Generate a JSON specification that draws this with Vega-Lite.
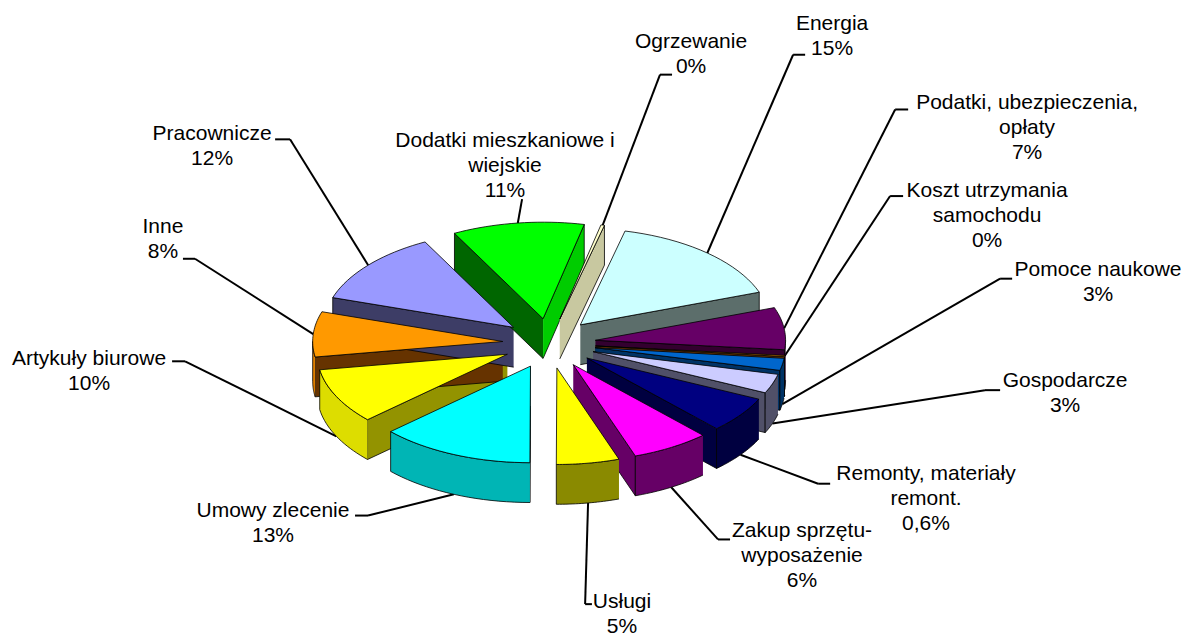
{"$schema":"https://vega.github.io/schema/vega-lite/v6.json","width":1185,"height":637,"padding":0,"autosize":{"type":"fit","contains":"padding"},"background":"white","config":{"view":{"stroke":null}},
"data":{"values":[
{"name":"Energia","label":"Energia\n15%","share":15.6},
{"name":"Podatki","label":"Podatki, ubezpieczenia,\nopłaty\n7%","share":7},
{"name":"Koszt","label":"Koszt utrzymania\nsamochodu\n0%","share":0.2},
{"name":"Pomoce","label":"Pomoce naukowe\n3%","share":2},
{"name":"Gospodarcze","label":"Gospodarcze\n3%","share":3.2},
{"name":"Remonty","label":"Remonty, materiały\nremont.\n0,6%","share":6},
{"name":"Zakup","label":"Zakup sprzętu-\nwyposażenie\n6%","share":6.6},
{"name":"Usługi","label":"Usługi\n5%","share":5.3},
{"name":"Umowy","label":"Umowy zlecenie\n13%","share":13},
{"name":"Artykuły","label":"Artykuły biurowe\n10%","share":9.2},
{"name":"Inne","label":"Inne\n8%","share":7.5},
{"name":"Pracownicze","label":"Pracownicze\n12%","share":12.2},
{"name":"Dodatki","label":"Dodatki mieszkaniowe i\nwiejskie\n11%","share":11.1},
{"name":"Ogrzewanie","label":"Ogrzewanie\n0%","share":0.3}
]},
"transform":[
{"window":[{"op":"row_number","as":"rank"},{"op":"sum","field":"share","as":"cum"}]},
{"joinaggregate":[{"op":"sum","field":"share","as":"total"}]},
{"calculate":"(13.6+360*datum.cum/datum.total)*PI/180","as":"a1"},
{"calculate":"datum.a1-2*PI*datum.share/datum.total","as":"a0"},
{"calculate":"(datum.a0+datum.a1)/2","as":"mid"},
{"calculate":"-0.03+0.24*sin(datum.mid)","as":"ox"},
{"calculate":"0.25*cos(datum.mid)","as":"oy"}
],
"layer":[
{"transform":[
{"calculate":"datum.ox+0.98*sin(datum.mid)","as":"ex"},
{"calculate":"datum.oy+0.97*cos(datum.mid)-(cos(datum.mid)<-0.15?0.4:0)","as":"ey"},
{"calculate":"[1.227,1.753,1.727,2.294,2.216,1.356,0.84,0.155,-0.964,-1.907,-1.856,-1.366,-0.17,0.541][datum.rank-1]","as":"kx"},
{"calculate":"[2.9,2.35,1.48,0.65,-0.47,-1.41,-1.97,-2.62,-1.73,-0.18,0.85,2.05,1.45,2.7][datum.rank-1]","as":"ky"}],
"mark":{"type":"rule","color":"black","strokeWidth":2},
"encoding":{"x":{"field":"ex","type":"quantitative","scale":{"domain":[-2.861,3.247],"nice":false,"zero":false},"axis":null},"y":{"field":"ey","type":"quantitative","scale":{"domain":[-2.92,3.45],"nice":false,"zero":false},"axis":null},"x2":{"field":"kx"},"y2":{"field":"ky"}}},
{"transform":[
{"calculate":"[1.227,1.753,1.727,2.294,2.216,1.356,0.84,0.155,-0.964,-1.907,-1.856,-1.366,-0.17,0.541][datum.rank-1]","as":"kx"},
{"calculate":"[1.289,1.82,1.794,2.356,2.294,1.418,0.902,0.19,-1.031,-1.974,-1.918,-1.443,-0.17,0.603][datum.rank-1]","as":"sx"},
{"calculate":"[2.9,2.35,1.48,0.65,-0.47,-1.41,-1.97,-2.62,-1.73,-0.18,0.85,2.05,1.45,2.7][datum.rank-1]","as":"ky"}],
"mark":{"type":"rule","color":"black","strokeWidth":2},
"encoding":{"x":{"field":"kx","type":"quantitative","scale":{"domain":[-2.861,3.247],"nice":false,"zero":false},"axis":null},"y":{"field":"ky","type":"quantitative","scale":{"domain":[-2.92,3.45],"nice":false,"zero":false},"axis":null},"x2":{"field":"sx"}}},
{"transform":[
{"calculate":"[0,1]","as":"w"},{"flatten":["w"]},
{"filter":"(datum.w==0&&sin(datum.a0)<0)||(datum.w==1&&sin(datum.a1)>0)"},
{"calculate":"[0,1,2,3]","as":"q"},{"flatten":["q"]},
{"calculate":"datum.w==0?datum.a0:datum.a1","as":"a"},
{"calculate":"datum.name+datum.w","as":"wk"},
{"calculate":"datum.ox+((datum.q==1||datum.q==2)?0.98*sin(datum.a):0)","as":"X"},
{"calculate":"datum.oy+((datum.q==1||datum.q==2)?0.97*cos(datum.a):0)-(datum.q>=2?0.4:0)","as":"Y"}],
"mark":{"type":"line","filled":true,"stroke":"black","strokeWidth":0.8,"interpolate":"linear"},
"encoding":{"x":{"field":"X","type":"quantitative","scale":{"domain":[-2.861,3.247],"nice":false,"zero":false},"axis":null},"y":{"field":"Y","type":"quantitative","scale":{"domain":[-2.92,3.45],"nice":false,"zero":false},"axis":null},"order":{"field":"q","type":"quantitative"},
"fill":{"field":"wk","type":"nominal","legend":null,"scale":{"domain":["Energia1","Podatki1","Koszt1","Pomoce1","Gospodarcze1","Remonty1","Zakup1","Dodatki1","Ogrzewanie1","Umowy0","Artykuły0","Inne0","Pracownicze0","Dodatki0"],"range":["#5c6e6b","#33002f","#663300","#003366","#505068","#000040","#660066","#00cc00","#c8c8a0","#009999","#939300","#663300","#3d3d66","#006600"]}}}},
{"transform":[
{"filter":"max(datum.a0,PI/2)<min(datum.a1,3*PI/2)"},
{"calculate":"[0,1,2,3,4,5,6,7,8,9,10,11,12,13,14,15,16,17,18,19,20,21,22,23,24,25,26,27,28,29,30,31,32,33,34,35,36,37,38,39,40,41]","as":"s"},{"flatten":["s"]},
{"calculate":"datum.s<=20?datum.s/20:(41-datum.s)/20","as":"t"},
{"calculate":"datum.s<=20?0:0.4","as":"d"},
{"calculate":"max(datum.a0,PI/2)+datum.t*(min(datum.a1,3*PI/2)-max(datum.a0,PI/2))","as":"a"},
{"calculate":"datum.ox+0.98*sin(datum.a)","as":"X"},
{"calculate":"datum.oy+0.97*cos(datum.a)-datum.d","as":"Y"}],
"mark":{"type":"line","filled":true,"stroke":"black","strokeWidth":0.8,"interpolate":"linear"},
"encoding":{"x":{"field":"X","type":"quantitative","scale":{"domain":[-2.861,3.247],"nice":false,"zero":false},"axis":null},"y":{"field":"Y","type":"quantitative","scale":{"domain":[-2.92,3.45],"nice":false,"zero":false},"axis":null},"order":{"field":"s","type":"quantitative"},
"fill":{"field":"name","type":"nominal","legend":null,"scale":{"domain":["Energia","Podatki","Koszt","Pomoce","Gospodarcze","Remonty","Zakup","Usługi","Umowy","Artykuły","Inne","Pracownicze","Dodatki","Ogrzewanie"],"range":["#5c6e6b","#33002f","#663300","#003366","#505068","#000040","#660066","#8a8a00","#00b5b5","#dddd00","#e08000","#3d3d66","#00cc00","#c8c8a0"]}}}},
{"transform":[
{"calculate":"[-1,0,0.05,0.1,0.15,0.2,0.25,0.3,0.35,0.4,0.45,0.5,0.55,0.6,0.65,0.7,0.75,0.8,0.85,0.9,0.95,1,2]","as":"t"},{"flatten":["t"]},
{"calculate":"datum.a0+datum.t*(datum.a1-datum.a0)","as":"a"},
{"calculate":"datum.ox+((datum.t<0||datum.t>1)?0:0.98*sin(datum.a))","as":"X"},
{"calculate":"datum.oy+((datum.t<0||datum.t>1)?0:0.97*cos(datum.a))","as":"Y"}],
"mark":{"type":"line","filled":true,"stroke":"black","strokeWidth":0.8,"interpolate":"linear"},
"encoding":{"x":{"field":"X","type":"quantitative","scale":{"domain":[-2.861,3.247],"nice":false,"zero":false},"axis":null},"y":{"field":"Y","type":"quantitative","scale":{"domain":[-2.92,3.45],"nice":false,"zero":false},"axis":null},"order":{"field":"t","type":"quantitative"},
"fill":{"field":"name","type":"nominal","legend":null,"scale":{"domain":["Energia","Podatki","Koszt","Pomoce","Gospodarcze","Remonty","Zakup","Usługi","Umowy","Artykuły","Inne","Pracownicze","Dodatki","Ogrzewanie"],"range":["#ccffff","#660066","#ff9900","#0066cc","#ccccff","#000080","#ff00ff","#ffff00","#00ffff","#ffff00","#ff9900","#9999ff","#00ff00","#ffffcc"]}}}},
{"transform":[
{"calculate":"[1.428,2.433,2.227,2.799,2.629,1.912,1.273,0.345,-1.454,-2.402,-2.021,-1.768,-0.258,0.701][datum.rank-1]","as":"lx"},
{"calculate":"[3.32,2.53,1.64,0.85,-0.27,-1.2,-1.77,-2.49,-1.57,-0.05,1.28,2.21,2.14,3.14][datum.rank-1]","as":"ly"}],
"mark":{"type":"text","font":"Liberation Sans","fontSize":21,"lineHeight":25,"lineBreak":"\n","baseline":"top","align":"center","color":"black"},
"encoding":{"x":{"field":"lx","type":"quantitative","scale":{"domain":[-2.861,3.247],"nice":false,"zero":false},"axis":null},"y":{"field":"ly","type":"quantitative","scale":{"domain":[-2.92,3.45],"nice":false,"zero":false},"axis":null},"text":{"field":"label","type":"nominal"}}}
],
"resolve":{"scale":{"fill":"independent","stroke":"independent"}}}
